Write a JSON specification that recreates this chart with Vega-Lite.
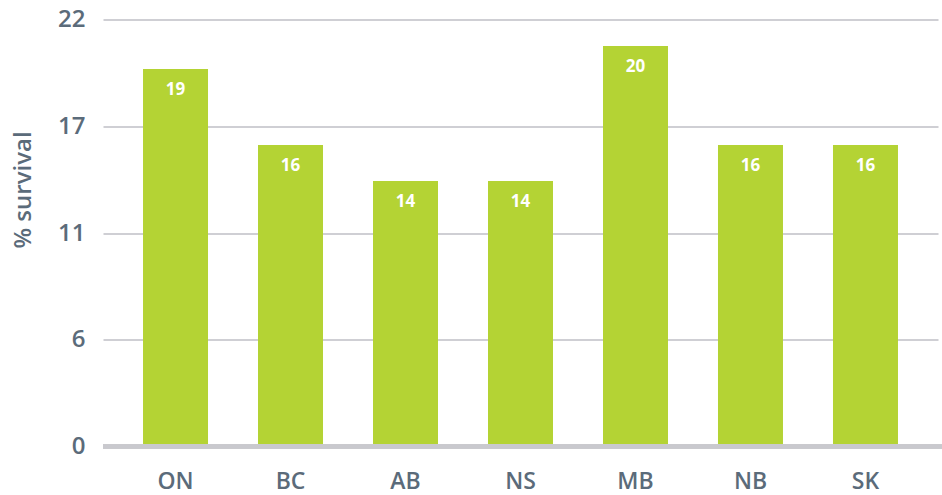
{
  "$schema": "https://vega.github.io/schema/vega-lite/v6.json",
  "width": 835,
  "height": 427,
  "autosize": "none",
  "padding": {"left": 103, "top": 19.5, "right": 4, "bottom": 48.5},
  "background": "white",
  "data": {
    "values": [
      {"province": "ON", "survival": 19.45, "label": "19"},
      {"province": "BC", "survival": 15.53, "label": "16"},
      {"province": "AB", "survival": 13.68, "label": "14"},
      {"province": "NS", "survival": 13.68, "label": "14"},
      {"province": "MB", "survival": 20.63, "label": "20"},
      {"province": "NB", "survival": 15.53, "label": "16"},
      {"province": "SK", "survival": 15.53, "label": "16"}
    ]
  },
  "config": {
    "view": {"stroke": null},
    "font": "Open Sans"
  },
  "encoding": {
    "x": {
      "field": "province",
      "type": "nominal",
      "sort": null,
      "scale": {"paddingInner": 0.4348, "paddingOuter": 0.348},
      "axis": {
        "title": null,
        "domain": false,
        "ticks": false,
        "labelAngle": 0,
        "labelFont": "Open Sans",
        "labelFontSize": 23,
        "labelFontWeight": 600,
        "labelColor": "#5b6b7a",
        "labelPadding": 24
      }
    },
    "y": {
      "field": "survival",
      "type": "quantitative",
      "scale": {"domain": [0, 22], "nice": false, "zero": true},
      "axis": {
        "title": "% survival",
        "titleFont": "Open Sans",
        "titleFontSize": 24,
        "titleFontWeight": 600,
        "titleColor": "#5b6b7a",
        "titleAngle": -90,
        "titleX": -80,
        "titleY": 170,
        "titleAlign": "center",
        "titleBaseline": "middle",
        "values": [0, 5.5, 11, 16.5, 22],
        "format": ".0f",
        "domain": false,
        "ticks": false,
        "labelFont": "Open Sans",
        "labelFontSize": 24,
        "labelFontWeight": 600,
        "labelColor": "#5b6b7a",
        "labelPadding": 18,
        "grid": true,
        "gridColor": "#cfcfd4",
        "gridWidth": 2
      }
    }
  },
  "layer": [
    {
      "mark": {"type": "bar", "color": "#b4d334"}
    },
    {
      "mark": {"type": "rule", "color": "#c9c9ce", "strokeWidth": 4},
      "encoding": {
        "x": {"value": 0},
        "x2": {"value": 839},
        "y": {"datum": 0}
      }
    },
    {
      "mark": {
        "type": "text",
        "color": "white",
        "font": "Open Sans",
        "fontSize": 17,
        "fontWeight": "bold",
        "baseline": "middle",
        "dy": 21
      },
      "encoding": {
        "text": {"field": "label"}
      }
    }
  ]
}
